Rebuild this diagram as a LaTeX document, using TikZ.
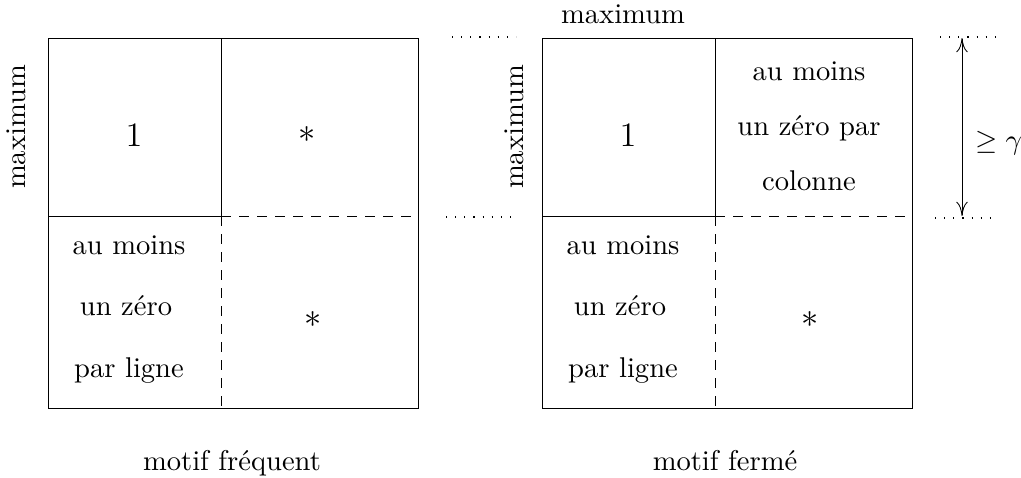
\documentclass[tikz,border=0pt]{standalone}
\usetikzlibrary{arrows.meta}
\begin{document}
\begin{tikzpicture}[x=0.35pt,y=-0.35pt,
  ln/.style={line width=0.3pt},
  dsh/.style={line width=0.3pt,dash pattern=on 3.5pt off 2.8pt},
  dots/.style={line width=0.4pt,dash pattern=on 0.4pt off 2.8pt},
  lbl/.style={inner sep=0pt,text height=1.5ex,text depth=.25ex},
  big/.style={inner sep=0pt,font=\large}]
\useasboundingbox (0,0) rectangle (1021,477);
% left box
\draw[ln] (48,38) rectangle (418,408);
\draw[ln] (221,38) -- (221,216);
\draw[ln] (48,216) -- (221,216);
\draw[dsh] (221,216) -- (418,216);
\draw[dsh] (221,216) -- (221,408);
% right box
\draw[ln] (542,38) rectangle (912,408);
\draw[ln] (715,38) -- (715,216);
\draw[ln] (542,216) -- (715,216);
\draw[dsh] (715,216) -- (912,216);
\draw[dsh] (715,216) -- (715,408);
% dotted guides
\coordinate (d1a) at (452,37); \coordinate (d1b) at (516,37);
\coordinate (d2a) at (446,217); \coordinate (d2b) at (519,217);
\coordinate (d3a) at (940,37); \coordinate (d3b) at (996,37);
\coordinate (d4a) at (935,218); \coordinate (d4b) at (990,218);
\draw[dots] (d1a) -- (d1b);
\draw[dots] (d2a) -- (d2b);
\draw[dots] (d3a) -- (d3b);
\draw[dots] (d4a) -- (d4b);
% arrow
\coordinate (ar1) at (962,38); \coordinate (ar2) at (962,216);
\draw[ln,{To[length=5pt,width=4pt]}-{To[length=5pt,width=4pt]}] (ar1) -- (ar2);
\node[inner sep=0pt,anchor=west] (g) at (975,143) {$\geq\gamma$};
% left texts
\node[lbl,rotate=90] (m1) at (18,127) {maximum};
\node[big] (one1) at (134,135) {1};
\node[big] (st1) at (307,135) {$*$};
\node[lbl] (l1) at (129,247) {au moins};
\node[lbl] (l2) at (126,308) {un zéro};
\node[lbl] (l3) at (129,370) {par ligne};
\node[big] (st2) at (313,320) {$*$};
\node[lbl] (cap1) at (232,463) {motif fréquent};
% right texts
\node[lbl] (m3) at (623,16) {maximum};
\node[lbl,rotate=90] (m2) at (516,127) {maximum};
\node[big] (one2) at (628,135) {1};
\node[lbl] (r1) at (809,73) {au moins};
\node[lbl] (r2) at (809,128) {un zéro par};
\node[lbl] (r3) at (809,183) {colonne};
\node[lbl] (r4) at (623,247) {au moins};
\node[lbl] (r5) at (620,308) {un zéro};
\node[lbl] (r6) at (623,370) {par ligne};
\node[big] (st3) at (810,320) {$*$};
\node[lbl] (cap2) at (725,463) {motif fermé};
\end{tikzpicture}
\end{document}
